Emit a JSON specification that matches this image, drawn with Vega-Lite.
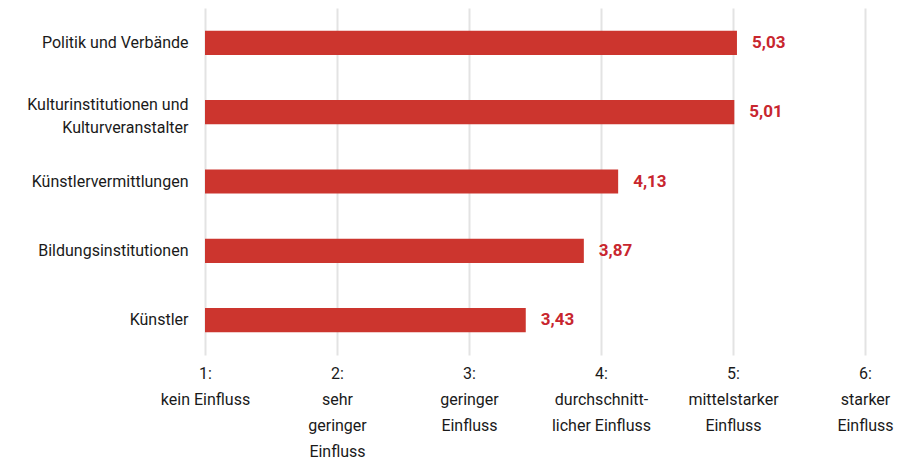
{
  "$schema": "https://vega.github.io/schema/vega-lite/v6.json",
  "width": 660,
  "height": 347,
  "autosize": "none",
  "padding": {"left": 205, "top": 8, "right": 34, "bottom": 106},
  "background": "white",
  "config": {
    "view": {"stroke": null},
    "font": "Roboto",
    "locale": {"number": {"decimal": ",", "thousands": ".", "grouping": [3], "currency": ["", " €"]}}
  },
  "data": {"values": [
    {"cat": "Politik und Verbände", "v": 5.03},
    {"cat": "Kulturinstitutionen und|Kulturveranstalter", "v": 5.01},
    {"cat": "Künstlervermittlungen", "v": 4.13},
    {"cat": "Bildungsinstitutionen", "v": 3.87},
    {"cat": "Künstler", "v": 3.43}
  ]},
  "encoding": {
    "y": {
      "field": "cat", "type": "nominal", "sort": null,
      "scale": {"paddingInner": 0.65, "paddingOuter": 0.33},
      "axis": {
        "title": null, "domain": false, "ticks": false,
        "labelExpr": "split(datum.label, '|')",
        "labelOffset": {"condition": {"test": "indexof(datum.value, '|') >= 0", "value": -7}, "value": 0},
        "labelFontSize": 16, "labelColor": "#1a1a1a", "labelPadding": 17,
        "labelLineHeight": 23, "labelLimit": 300, "labelFont": "Roboto"
      }
    },
    "x": {
      "field": "v", "type": "quantitative",
      "scale": {"domain": [1, 6], "nice": false, "zero": false},
      "axis": {
        "title": null, "domain": false, "ticks": false,
        "values": [1, 2, 3, 4, 5, 6],
        "gridColor": "#e3e3e3", "gridWidth": 2,
        "labelExpr": "datum.value == 1 ? ['1:', 'kein Einfluss'] : datum.value == 2 ? ['2:', 'sehr', 'geringer', 'Einfluss'] : datum.value == 3 ? ['3:', 'geringer', 'Einfluss'] : datum.value == 4 ? ['4:', 'durchschnitt-', 'licher Einfluss'] : datum.value == 5 ? ['5:', 'mittelstarker', 'Einfluss'] : ['6:', 'starker', 'Einfluss']",
        "labelFontSize": 16, "labelColor": "#1a1a1a", "labelPadding": 10,
        "labelLineHeight": 26, "labelFont": "Roboto", "labelFlush": false
      }
    }
  },
  "layer": [
    {"mark": {"type": "bar", "color": "#cc352e"}, "encoding": {"x2": {"datum": 1}}},
    {
      "mark": {"type": "text", "align": "left", "dx": 15, "fontSize": 17, "fontWeight": "bold", "color": "#c8262e", "font": "Roboto"},
      "encoding": {"text": {"field": "v", "type": "quantitative", "format": ".2f"}}
    }
  ]
}
